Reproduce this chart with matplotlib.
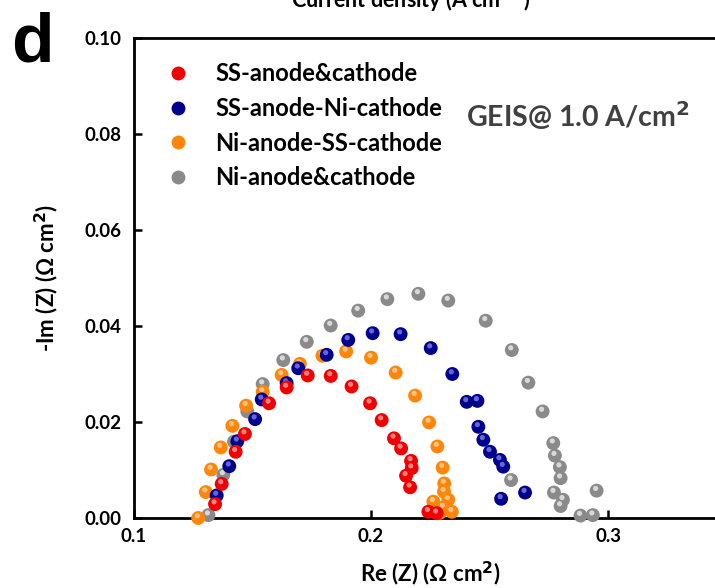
import matplotlib
matplotlib.use("Agg")
import matplotlib.pyplot as plt
import matplotlib.transforms as mtransforms
from matplotlib.lines import Line2D

plt.rcParams['font.family'] = ['Lato', 'DejaVu Sans']
plt.rcParams['font.weight'] = 'bold'

# ---------------- data ----------------
series_names = ["SS-anode&cathode", "SS-anode-Ni-cathode",
                "Ni-anode-SS-cathode", "Ni-anode&cathode"]
series_colors = ["#f00000", "#00008f", "#ff860a", "#8a8a8a"]
highlight_colors = ["#ff9a9a", "#7a7ae0", "#ffd09a", "#e6e6e6"]

re_ss_ss = [0.1342, 0.1370, 0.1429, 0.1468, 0.1570, 0.1644, 0.1733, 0.1830, 0.1918,
            0.1996, 0.2045, 0.2097, 0.2127, 0.2169, 0.2172, 0.2148, 0.2165, 0.2242, 0.2277]
im_ss_ss = [0.0029, 0.0071, 0.0138, 0.0175, 0.0239, 0.0272, 0.0297, 0.0296, 0.0274,
            0.0239, 0.0204, 0.0166, 0.0145, 0.0119, 0.0104, 0.0088, 0.0064, 0.0013, 0.0010]

re_ss_ni = [0.1349, 0.1402, 0.1436, 0.1511, 0.1539, 0.1644, 0.1693, 0.1813, 0.1904, 0.2007,
            0.2125, 0.2252, 0.2343, 0.2404, 0.2449, 0.2453, 0.2474, 0.2502, 0.2544, 0.2558,
            0.2549, 0.2650]
im_ss_ni = [0.0047, 0.0108, 0.0160, 0.0206, 0.0247, 0.0281, 0.0312, 0.0340, 0.0371, 0.0385,
            0.0383, 0.0354, 0.0300, 0.0242, 0.0244, 0.0190, 0.0163, 0.0138, 0.0121, 0.0107,
            0.0040, 0.0053]

re_ni_ss = [0.1271, 0.1303, 0.1325, 0.1366, 0.1415, 0.1473, 0.1543, 0.1623, 0.1700, 0.1795,
            0.1895, 0.2000, 0.2104, 0.2186, 0.2245, 0.2280, 0.2302, 0.2309, 0.2308, 0.2263,
            0.2326, 0.2305, 0.2341, 0.2291]
im_ni_ss = [0.0000, 0.0054, 0.0101, 0.0147, 0.0192, 0.0234, 0.0263, 0.0298, 0.0321, 0.0338,
            0.0347, 0.0334, 0.0303, 0.0255, 0.0199, 0.0149, 0.0105, 0.0072, 0.0055, 0.0034,
            0.0038, 0.0022, 0.0013, 0.0011]

re_ni_ni = [0.1314, 0.1377, 0.1422, 0.1478, 0.1543, 0.1630, 0.1729, 0.1830, 0.1946, 0.2069,
            0.2200, 0.2326, 0.2484, 0.2594, 0.2664, 0.2724, 0.2769, 0.2776, 0.2797, 0.2800,
            0.2591, 0.2772, 0.2810, 0.2800, 0.2952, 0.2884, 0.2936]
im_ni_ni = [0.0006, 0.0090, 0.0159, 0.0222, 0.0279, 0.0329, 0.0367, 0.0401, 0.0432, 0.0456,
            0.0467, 0.0453, 0.0411, 0.0350, 0.0282, 0.0222, 0.0156, 0.0130, 0.0106, 0.0083,
            0.0079, 0.0053, 0.0038, 0.0025, 0.0057, 0.0005, 0.0006]

x_ticks = [0.1, 0.2, 0.3]
y_ticks = [0.00, 0.02, 0.04, 0.06, 0.08, 0.10]

# ---------------- figure ----------------
W, H, DPI = 715, 588, 100
fig = plt.figure(figsize=(W / DPI, H / DPI), dpi=DPI)

ax_left, ax_right, ax_top, ax_bottom = 134, 726.5, 38, 518
ax = fig.add_axes([ax_left / W, (H - ax_bottom) / H,
                   (ax_right - ax_left) / W, (ax_bottom - ax_top) / H])
ax.set_xlim(0.1, 0.35)
ax.set_ylim(0.0, 0.10)

all_series = [(re_ss_ss, im_ss_ss), (re_ss_ni, im_ss_ni),
              (re_ni_ss, im_ni_ss), (re_ni_ni, im_ni_ni)]

hl_trans = mtransforms.offset_copy(ax.transData, fig=fig, x=-1.0, y=2.2, units='dots')
draw_order = [3, 2, 1, 0]
for k, i in enumerate(draw_order):
    xs, ys = all_series[i]
    ax.scatter(xs, ys, s=100, color=series_colors[i], edgecolors='none',
               zorder=3 + 2 * k, clip_on=False)
    ax.scatter(xs, ys, s=14, color=highlight_colors[i], edgecolors='none',
               alpha=0.85, zorder=4 + 2 * k, transform=hl_trans, clip_on=False)

ax.set_xticks(x_ticks)
ax.set_xticklabels([f"{v:.1f}" for v in x_ticks])
ax.set_yticks(y_ticks)
ax.set_yticklabels([f"{v:.2f}" for v in y_ticks])
ax.tick_params(direction='in', length=6, width=1.8, labelsize=13.5)
ax.tick_params(axis='y', pad=9)
ax.tick_params(axis='x', pad=7)
for sp in ax.spines.values():
    sp.set_linewidth(2.0)

ax.set_xlabel("Re (Z) (Ω cm$^{\\mathbf{2}}$)", fontsize=16, fontweight='bold', labelpad=11)
ax.set_ylabel("-Im (Z) (Ω cm$^{\\mathbf{2}}$)", fontsize=16, fontweight='bold', labelpad=17)

handles = [Line2D([], [], linestyle='none', marker='o', markersize=10,
                  markerfacecolor=c, markeredgecolor='none') for c in series_colors]
leg = ax.legend(handles, series_names, loc='upper left', frameon=False,
                bbox_to_anchor=((166 - ax_left) / (ax_right - ax_left), 1 - (62 - ax_top) / (ax_bottom - ax_top)),
                borderaxespad=0, borderpad=0, handlelength=1.0, handletextpad=1.1,
                labelspacing=0.5, prop={'weight': 'bold', 'size': 17})

fig.text(466 / W, 1 - 116 / H, "GEIS@ 1.0 A/cm$^{\\mathbf{2}}$", fontsize=20.5, fontweight='bold',
         color='#404040', ha='left', va='center')

fig.text(11 / W, 1 - 62 / H, "d", fontsize=50, fontweight='bold', ha='left', va='baseline',
         family=['Liberation Sans', 'DejaVu Sans'])
fig.text(411 / W, 1 - 8 / H, "Current density (A cm$^{\\mathbf{-2}}$)", fontsize=15.5,
         fontweight='bold', ha='center', va='baseline')

fig.savefig("out.png", dpi=DPI)
